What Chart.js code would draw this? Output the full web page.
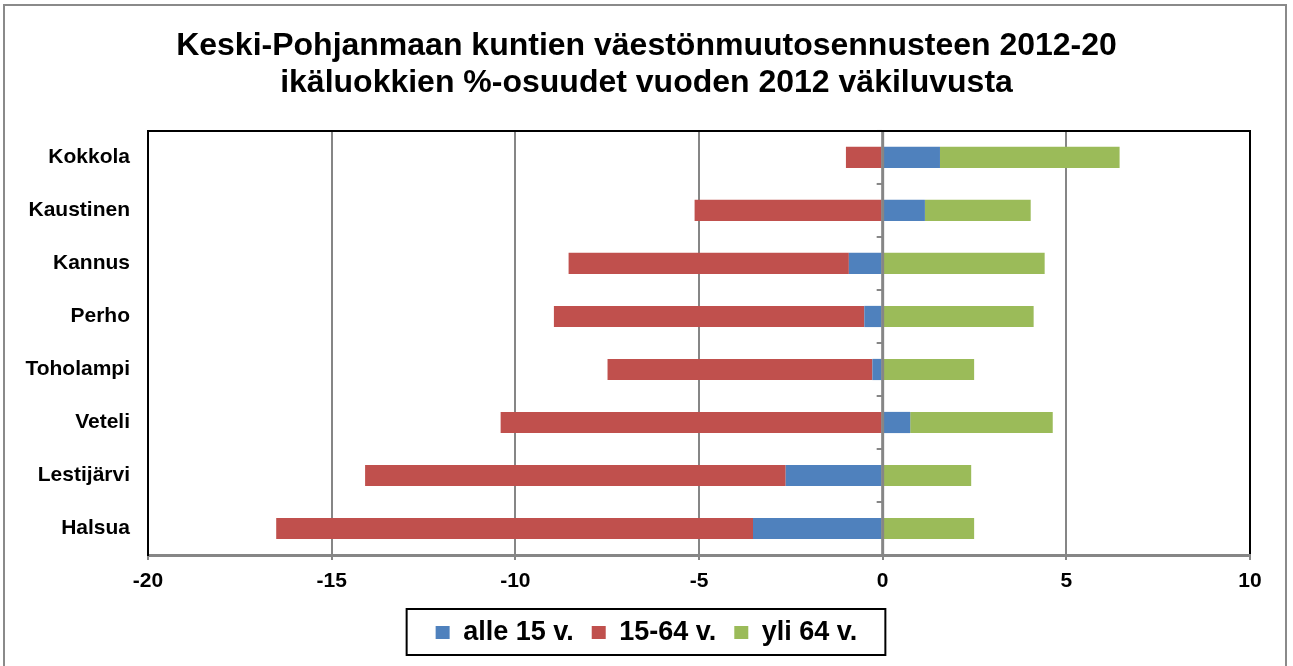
<!DOCTYPE html>
<html>
<head>
<meta charset="utf-8">
<script src="https://cdn.jsdelivr.net/npm/chart.js@4.4.0/dist/chart.umd.min.js"></script>
<style>
  html, body { margin: 0; padding: 0; background: #fff; }
  #frame {
    position: absolute; left: 3px; top: 4px; width: 1284px; height: 680px;
    border: 2px solid #8a8a8a; box-sizing: border-box;
  }
  #wrap { position: absolute; left: 0; top: 0; width: 1293px; height: 666px; }
</style>
</head>
<body>
<div id="frame"></div>
<div id="wrap"><canvas id="chart"></canvas></div>
<script>
// Categories and series (percent of 2012 population)
const kunnat = ["Kokkola", "Kaustinen", "Kannus", "Perho", "Toholampi", "Veteli", "Lestijärvi", "Halsua"]
const alle15 = [1.56, 1.15, -0.92, -0.50, -0.28, 0.75, -2.64, -3.53]
const ika15_64 = [-1.0, -5.12, -7.63, -8.45, -7.21, -10.40, -11.45, -12.98]
const yli64 = [4.89, 2.88, 4.41, 4.11, 2.49, 3.88, 2.41, 2.49]
const xTicks = [-20, -15, -10, -5, 0, 5, 10]

const gridGray = "#868686"
const fontFamily = "Arial, 'Liberation Sans', sans-serif"

// Zero (category) axis line with small tick marks, drawn over the bars
const zeroAxis = {
  id: "zeroAxis",
  afterDatasetsDraw(chart) {
    const { ctx, chartArea, scales } = chart
    const x0 = scales.x.getPixelForValue(0)
    const yS = scales.y
    ctx.save()
    ctx.strokeStyle = gridGray
    ctx.lineWidth = 3
    ctx.beginPath()
    ctx.moveTo(x0, chartArea.top)
    ctx.lineTo(x0, chartArea.bottom)
    ctx.stroke()
    ctx.lineWidth = 2
    for (let i = 0; i <= kunnat.length; i++) {
      let y
      if (i === 0) y = chartArea.top
      else if (i === kunnat.length) y = chartArea.bottom
      else y = (yS.getPixelForValue(i - 1) + yS.getPixelForValue(i)) / 2
      ctx.beginPath()
      ctx.moveTo(x0 - 6, y)
      ctx.lineTo(x0, y)
      ctx.stroke()
    }
    ctx.restore()
  },
  afterDraw(chart) {
    const { ctx, chartArea, legend } = chart
    ctx.save()
    // top border of plot area
    ctx.strokeStyle = "#000"
    ctx.lineWidth = 2
    ctx.beginPath()
    ctx.moveTo(chartArea.left - 1, chartArea.top)
    ctx.lineTo(chartArea.right + 1, chartArea.top)
    ctx.stroke()
    // legend box
    const boxes = legend.legendHitBoxes
    if (boxes && boxes.length) {
      const l = Math.min(...boxes.map((b) => b.left)) - 29
      const r = Math.max(...boxes.map((b) => b.left + b.width)) + 28
      const t = boxes[0].top - 10
      const b = boxes[0].top + 36
      ctx.lineWidth = 2
      ctx.strokeRect(l, t, r - l, b - t)
    }
    ctx.restore()
  },
}

new Chart(document.getElementById("chart"), {
  type: "bar",
  data: {
    labels: kunnat,
    datasets: [
      { label: "alle 15 v.", data: alle15, backgroundColor: "#4F81BD" },
      { label: "15-64 v.", data: ika15_64, backgroundColor: "#C0504D" },
      { label: "yli 64 v.", data: yli64, backgroundColor: "#9BBB59" },
    ],
  },
  options: {
    indexAxis: "y",
    responsive: true,
    maintainAspectRatio: false,
    animation: false,
    layout: { padding: { left: 0, right: 0, top: 0, bottom: 10 } },
    datasets: { bar: { categoryPercentage: 1, barPercentage: 0.4 } },
    plugins: {
      tooltip: { enabled: false },
      title: {
        display: true,
        text: [
          "Keski-Pohjanmaan kuntien väestönmuutosennusteen 2012-20",
          "ikäluokkien %-osuudet vuoden 2012 väkiluvusta",
        ],
        color: "#000",
        font: { family: fontFamily, size: 32, weight: "bold", lineHeight: 1.14 },
        padding: { top: 28, bottom: 30 },
      },
      legend: {
        position: "bottom",
        labels: {
          color: "#000",
          boxWidth: 14,
          boxHeight: 13,
          padding: 18,
          font: { family: fontFamily, size: 27, weight: "bold" },
        },
      },
    },
    scales: {
      x: {
        stacked: true,
        min: -20,
        max: 10,
        afterBuildTicks: (axis) => {
          axis.ticks = xTicks.map((v) => ({ value: v }))
        },
        grid: {
          color: (c) => (c.tick && (c.tick.value === -20 || c.tick.value === 10) ? "#000" : gridGray),
          lineWidth: 2,
          drawTicks: true,
          tickLength: 5,
          tickColor: gridGray,
        },
        border: { color: gridGray, width: 3 },
        ticks: {
          color: "#000",
          padding: 9,
          font: { family: fontFamily, size: 21, weight: "bold" },
        },
        afterFit: (axis) => {
          axis.height = 46
        },
      },
      y: {
        stacked: true,
        grid: { display: false, drawTicks: false },
        border: { color: "#000", width: 2 },
        ticks: {
          color: "#000",
          padding: 18,
          font: { family: fontFamily, size: 21, weight: "bold" },
        },
        afterFit: (axis) => {
          axis.width = 148
        },
      },
      // empty right-hand axis only to reserve the margin right of the plot
      yRight: {
        position: "right",
        grid: { display: false, drawTicks: false },
        border: { display: false },
        ticks: { display: false },
        afterFit: (axis) => {
          axis.width = 43
        },
      },
    },
  },
  plugins: [zeroAxis],
})
</script>
</body>
</html>
